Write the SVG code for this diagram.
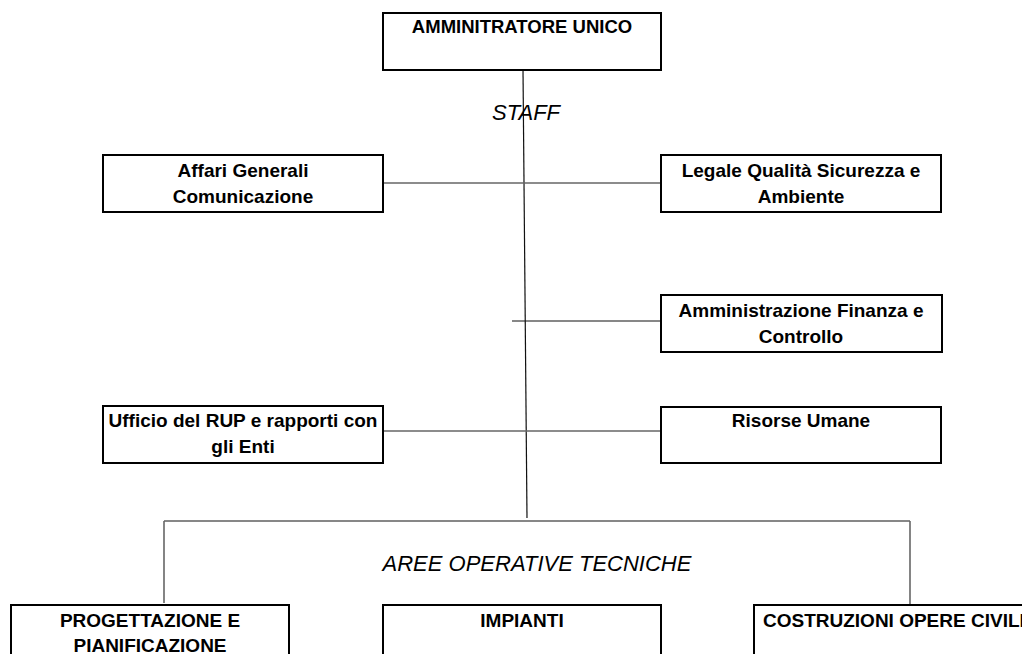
<svg xmlns="http://www.w3.org/2000/svg" width="1022" height="654" viewBox="0 0 1022 654">
<style>
.box{fill:#fff;stroke:#000;stroke-width:2}
.t{font-family:"Liberation Sans",Arial,sans-serif;font-weight:bold;font-size:19px;fill:#000;text-anchor:middle}
.lbl{font-family:"Liberation Sans",Arial,sans-serif;font-style:italic;font-size:22px;fill:#000;text-anchor:middle}
.c{stroke:#666;stroke-width:1.6;fill:none}
.k{stroke:#111;stroke-width:1.2;fill:none}
</style>
<rect width="1022" height="654" fill="#fff"/>
<g id="connectors">
<line class="k" x1="523" y1="70" x2="527" y2="518"/>
<line class="c" x1="383" y1="183" x2="661" y2="183"/>
<line class="k" x1="512" y1="321" x2="661" y2="321"/>
<line class="c" x1="383" y1="431" x2="661" y2="431"/>
<line class="k" x1="164" y1="521" x2="910" y2="521"/>
<line class="c" x1="164" y1="521" x2="164" y2="603"/>
<line class="c" x1="910" y1="521" x2="910" y2="604"/>
</g>
<text class="lbl" x="526" y="120">STAFF</text>
<text class="lbl" x="537" y="571">AREE OPERATIVE TECNICHE</text>
<g id="amministratore">
<rect class="box" x="383" y="13" width="278" height="57"/>
<text class="t" x="522" y="33" style="font-size:18.5px">AMMINITRATORE UNICO</text>
</g>
<g id="affari">
<rect class="box" x="103" y="155" width="280" height="57"/>
<text class="t" x="243" y="177">Affari Generali</text>
<text class="t" x="243" y="203">Comunicazione</text>
</g>
<g id="legale">
<rect class="box" x="661" y="155" width="280" height="57"/>
<text class="t" x="801" y="177">Legale Qualità Sicurezza e</text>
<text class="t" x="801" y="203">Ambiente</text>
</g>
<g id="amministrazione">
<rect class="box" x="661" y="295" width="281" height="57"/>
<text class="t" x="801" y="317">Amministrazione Finanza e</text>
<text class="t" x="801" y="343">Controllo</text>
</g>
<g id="ufficio">
<rect class="box" x="103" y="406" width="280" height="57"/>
<text class="t" x="243" y="427">Ufficio del RUP e rapporti con</text>
<text class="t" x="243" y="453">gli Enti</text>
</g>
<g id="risorse">
<rect class="box" x="661" y="407" width="280" height="56"/>
<text class="t" x="801" y="427">Risorse Umane</text>
</g>
<g id="progettazione">
<rect class="box" x="11" y="605" width="278" height="60"/>
<text class="t" x="150" y="627">PROGETTAZIONE E</text>
<text class="t" x="150" y="652">PIANIFICAZIONE</text>
</g>
<g id="impianti">
<rect class="box" x="383" y="605" width="278" height="60"/>
<text class="t" x="522" y="627">IMPIANTI</text>
</g>
<g id="costruzioni">
<rect class="box" x="754" y="605" width="290" height="60"/>
<text class="t" x="763" y="627" style="text-anchor:start">COSTRUZIONI OPERE CIVILI</text>
</g>
</svg>
